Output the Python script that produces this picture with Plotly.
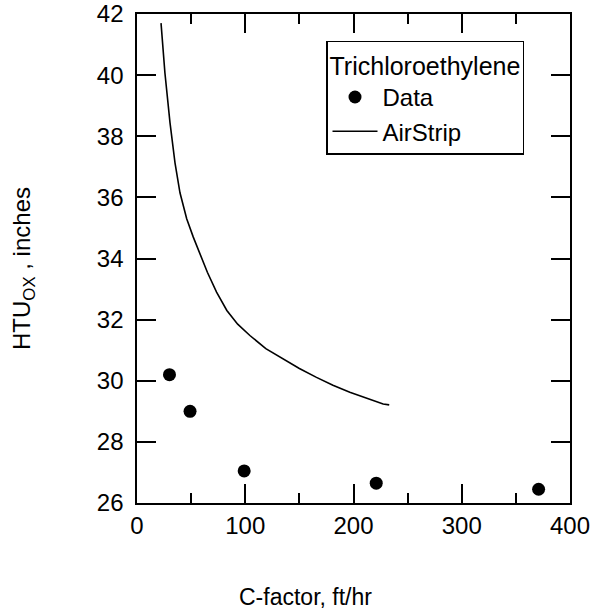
import plotly.graph_objects as go

data_x = [30, 49, 99, 221, 371]
data_y = [30.2, 29.0, 27.05, 26.65, 26.45]

curve_x = [22.2, 25.8, 30.5, 35.1, 39.7, 45.9, 52, 58.2, 65, 73.5, 83, 93, 104.3, 119, 135, 150, 165.8, 181, 196.6, 212, 227.4, 233]
curve_y = [41.7, 40.07, 38.44, 37.13, 36.15, 35.3, 34.7, 34.15, 33.55, 32.9, 32.3, 31.85, 31.48, 31.05, 30.71, 30.4, 30.11, 29.85, 29.62, 29.42, 29.24, 29.21]

x_title = "C-factor, ft/hr"
y_title = "HTU<sub>OX</sub> , inches"
legend_title = "Trichloroethylene"

font = "Liberation Sans, Arial, sans-serif"
TICK = 24

fig = go.Figure()
fig.add_trace(go.Scatter(x=data_x, y=data_y, mode="markers", name="Data",
                         marker=dict(color="black", size=13)))
fig.add_trace(go.Scatter(x=curve_x, y=curve_y, mode="lines", name="AirStrip",
                         line=dict(color="black", width=1.6)))

axis_common = dict(showline=True, linecolor="black", linewidth=2, mirror="ticks",
                   ticks="inside", ticklen=19, tickwidth=2, tickcolor="black",
                   showgrid=False, zeroline=False, automargin=False,
                   tickfont=dict(family=font, size=TICK, color="black"))

fig.update_xaxes(range=[0, 400], dtick=100, tick0=0,
                 minor=dict(dtick=50, ticks="inside", ticklen=10, tickwidth=2,
                            tickcolor="black", showgrid=False),
                 **axis_common)
fig.update_yaxes(range=[26, 42], dtick=2, tick0=26, ticksuffix="\u00a0",
                 **axis_common)

fig.add_annotation(text=x_title, xref="paper", yref="paper", x=0.388, y=-0.192,
                   showarrow=False, xanchor="center", yanchor="middle",
                   font=dict(family=font, size=23, color="black"))
fig.add_annotation(text=y_title, xref="paper", yref="paper", x=-0.261, y=0.4806,
                   showarrow=False, xanchor="center", yanchor="middle", textangle=-90,
                   font=dict(family=font, size=24, color="black"))

fig.update_layout(
    width=603, height=616,
    margin=dict(l=137, r=33, t=14, b=113),
    paper_bgcolor="white", plot_bgcolor="white",
    font=dict(family=font, size=TICK, color="black"),
    legend=dict(x=0.4365, y=0.945, xanchor="left", yanchor="top",
                bordercolor="black", borderwidth=1.5, bgcolor="white",
                title=dict(text=legend_title, font=dict(family=font, size=25)),
                font=dict(family=font, size=TICK), itemwidth=45, tracegroupgap=0),
)

fig.write_html("out.html")
